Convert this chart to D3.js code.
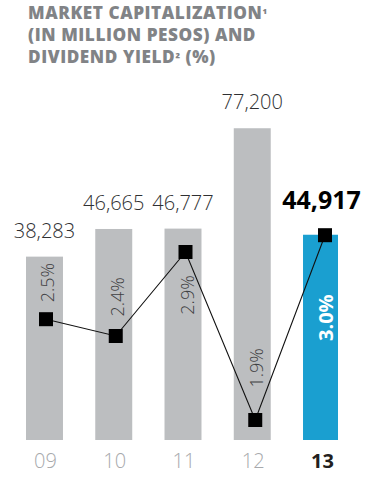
<!DOCTYPE html>
<html>
<head>
<meta charset="utf-8">
<script src="https://cdn.jsdelivr.net/npm/d3@7"></script>
<style>
  html, body { margin: 0; padding: 0; background: #ffffff; }
  svg { display: block; }
</style>
</head>
<body>
<svg id="chart" width="382" height="486"></svg>
<script>
// Market capitalization (million pesos) and dividend yield (%) by year
const years = ["09", "10", "11", "12", "13"];
const marketCap = [38283, 46665, 46777, 77200, 44917];
const dividendYield = [2.5, 2.4, 2.9, 1.9, 3.0];
const titleLines = [
  ["MARKET CAPITALIZATION", "¹", ""],
  ["(IN MILLION PESOS) AND", "", ""],
  ["DIVIDEND YIELD", "²", " (%)"]
];
const highlightYear = "13";

const baseY = 440;
const svg = d3.select("#chart");
const FONT = "'Open Sans', 'Noto Sans', sans-serif";

// Title (three lines, footnote marks set smaller)
const title = svg.append("g")
  .attr("font-family", FONT)
  .attr("font-weight", 800)
  .attr("font-size", 17.2)
  .attr("letter-spacing", 0.55)
  .attr("fill", "#818386");
titleLines.forEach(([main, sup, tail], i) => {
  const t = title.append("text").attr("x", 28).attr("y", 18.5 + i * 22);
  t.append("tspan").text(main);
  if (sup) t.append("tspan").attr("font-size", 12).text(sup);
  if (tail) t.append("tspan").text(tail);
});

// Scales
const x = d3.scaleBand().domain(years).range([26, 340]).paddingInner(0.466).paddingOuter(0);
const xPt = d3.scalePoint().domain(years).range([46, 325]);
const yCap = d3.scaleLinear().domain([-17300, 80000]).range([baseY, 119]);
const yYield = d3.scaleLinear().domain([1.8, 3.1]).range([436.8, 218.4]);

const data = years.map((yr, i) => ({
  year: yr,
  cap: marketCap[i],
  yld: dividendYield[i],
  hi: yr === highlightYear
}));

// Bars
svg.append("g").selectAll("rect").data(data).join("rect")
  .attr("x", d => x(d.year))
  .attr("y", d => yCap(d.cap))
  .attr("width", d => d.hi ? x.bandwidth() - 2 : x.bandwidth())
  .attr("height", d => baseY - yCap(d.cap))
  .attr("fill", d => d.hi ? "#1a9fd0" : "#bcbec0");

// Dividend yield line
const line = d3.line().x(d => xPt(d.year)).y(d => yYield(d.yld));
svg.append("path").datum(data)
  .attr("d", line)
  .attr("fill", "none")
  .attr("stroke", "#111111")
  .attr("stroke-width", 1.1);

// Markers
const ms = 14;
svg.append("g").selectAll("rect").data(data).join("rect")
  .attr("x", d => xPt(d.year) - ms / 2)
  .attr("y", d => yYield(d.yld) - ms / 2)
  .attr("width", ms)
  .attr("height", ms)
  .attr("fill", "#000000");

// Yield labels (rotated, inside bars)
const fmtPct = d => d3.format(".1f")(d) + "%";
svg.append("g").selectAll("text").data(data).join("text")
  .attr("transform", d => {
    const my = yYield(d.yld);
    const top = yCap(d.cap);
    let cy;
    if (my < top + 60) {
      // marker near the bar top: label goes below the marker
      const gap = d.hi ? 58 : 23;
      const len = d.hi ? 49 : 40;
      cy = my + gap + len / 2;
    } else {
      // marker lower in the bar: label sits above it, clear of the line
      cy = my - 36.5 - 0.155 * (my - 319);
    }
    return `translate(${xPt(d.year) + 8},${cy}) rotate(-90)`;
  })
  .attr("text-anchor", "middle")
  .attr("font-family", FONT)
  .attr("font-weight", d => d.hi ? 700 : 300)
  .attr("font-size", d => d.hi ? 20 : 18)
  .attr("fill", d => d.hi ? "#ffffff" : "#3f4042")
  .text(d => fmtPct(d.yld));

// Value labels
const fmtCap = d3.format(",");
svg.append("g").selectAll("text").data(data).join("text")
  .attr("x", d => x(d.year) + x.bandwidth() / 2)
  .attr("y", d => Math.min(yCap(d.cap), yYield(d.yld) - 7) - 19)
  .attr("text-anchor", "middle")
  .attr("font-family", FONT)
  .attr("font-weight", d => d.hi ? 700 : 300)
  .attr("font-size", d => d.hi ? 25 : 20)
  .attr("fill", d => d.hi ? "#000000" : "#2f3032")
  .text(d => fmtCap(d.cap));

// Year axis labels
svg.append("g").selectAll("text").data(data).join("text")
  .attr("x", d => x(d.year) + x.bandwidth() / 2 + 1)
  .attr("y", 468)
  .attr("text-anchor", "middle")
  .attr("font-family", FONT)
  .attr("font-weight", d => d.hi ? 700 : 300)
  .attr("font-size", 20)
  .attr("fill", d => d.hi ? "#231f20" : "#a7a9ac")
  .text(d => d.year);
</script>
</body>
</html>
